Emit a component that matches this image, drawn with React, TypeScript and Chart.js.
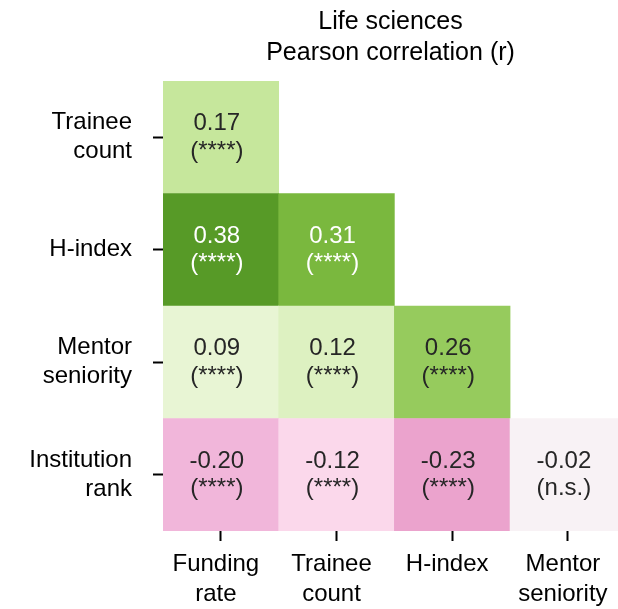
import React, { useEffect, useRef } from "react";
import { Chart, registerables } from "chart.js";

Chart.register(...registerables);

// ---- data ----
const rowLabels: (string | string[])[] = [["Trainee", "count"], "H-index", ["Mentor", "seniority"], ["Institution", "rank"]];
const colLabels: (string | string[])[] = [["Funding", "rate"], ["Trainee", "count"], "H-index", ["Mentor", "seniority"]];

// lower triangle, one array per row (columns from left)
const rTraineeCount = [0.17];
const rHIndex = [0.38, 0.31];
const rMentorSeniority = [0.09, 0.12, 0.26];
const rInstitutionRank = [-0.2, -0.12, -0.23, -0.02];

const sigTraineeCount = ["****"];
const sigHIndex = ["****", "****"];
const sigMentorSeniority = ["****", "****", "****"];
const sigInstitutionRank = ["****", "****", "****", "n.s."];

const rRows = [rTraineeCount, rHIndex, rMentorSeniority, rInstitutionRank];
const sigRows = [sigTraineeCount, sigHIndex, sigMentorSeniority, sigInstitutionRank];

const titleLines = ["Life sciences", "Pearson correlation (r)"];

// ---- colour map (PiYG, vmin -0.5, vmax 0.5) ----
const PIYG = ["#8e0152", "#c51b7d", "#de77ae", "#f1b6da", "#fde0ef", "#f7f7f7", "#e6f5d0", "#b8e186", "#7fbc41", "#4d9221", "#276419"];
const VMIN = -0.5;
const VMAX = 0.5;

function hexToRgb(h: string): number[] {
  return [parseInt(h.slice(1, 3), 16), parseInt(h.slice(3, 5), 16), parseInt(h.slice(5, 7), 16)];
}
function cmapRgb(v: number): number[] {
  let t = (v - VMIN) / (VMAX - VMIN);
  t = Math.max(0, Math.min(1, t));
  const pos = t * (PIYG.length - 1);
  const i = Math.min(Math.floor(pos), PIYG.length - 2);
  const f = pos - i;
  const a = hexToRgb(PIYG[i]);
  const b = hexToRgb(PIYG[i + 1]);
  return a.map((c, k) => Math.round(c + (b[k] - c) * f));
}
function cmap(v: number): string {
  const [r, g, b] = cmapRgb(v);
  return `rgb(${r},${g},${b})`;
}
function textColor(v: number): string {
  const lin = cmapRgb(v).map((c) => {
    const s = c / 255;
    return s <= 0.03928 ? s / 12.92 : Math.pow((s + 0.055) / 1.055, 2.4);
  });
  const L = 0.2126 * lin[0] + 0.7152 * lin[1] + 0.0722 * lin[2];
  return L > 0.408 ? "#262626" : "#ffffff";
}

type Cell = { col: number; row: number; r: number; sig: string };
const cells: Cell[] = [];
rRows.forEach((vals, row) => {
  vals.forEach((r, col) => cells.push({ col, row, r, sig: sigRows[row][col] }));
});

const FONT_FAMILY = '"Liberation Sans", Arial, Helvetica, sans-serif';

const annotPlugin = {
  id: "annot",
  afterDatasetsDraw(chart: any) {
    const ctx = chart.ctx;
    const meta = chart.getDatasetMeta(0);
    meta.data.forEach((el: any, i: number) => {
      const c = cells[i];
      const { x, y, base } = el.getProps(["x", "y", "base"], true);
      const cy = (y + base) / 2;
      ctx.save();
      ctx.font = `24px ${FONT_FAMILY}`;
      ctx.fillStyle = textColor(c.r);
      ctx.textAlign = "center";
      ctx.textBaseline = "middle";
      ctx.fillText(c.r.toFixed(2), x - 4, cy - 13.75);
      ctx.fillText(`(${c.sig})`, x - 4, cy + 13.75);
      ctx.restore();
    });
  },
};

export default function App() {
  const ref = useRef<HTMLCanvasElement | null>(null);
  useEffect(() => {
    if (!ref.current) return;
    const chart = new Chart(ref.current, {
      type: "bar",
      data: {
        datasets: [
          {
            data: cells.map((c) => ({ x: c.col, y: [c.row - 0.5, c.row + 0.5] })) as any,
            backgroundColor: cells.map((c) => cmap(c.r)),
            borderWidth: 0,
            barPercentage: 1,
            categoryPercentage: 1,
          },
        ],
      },
      options: {
        responsive: false,
        animation: false,
        devicePixelRatio: 1,
        layout: { padding: { left: 0, right: 0, top: 0, bottom: 0 } },
        plugins: {
          legend: { display: false },
          tooltip: { enabled: false },
          title: {
            display: true,
            fullSize: false,
            text: titleLines,
            color: "#000",
            font: { family: FONT_FAMILY, size: 25, weight: "normal", lineHeight: 1.24 },
            padding: { top: 7, bottom: 12 },
          },
        },
        scales: {
          x: {
            type: "linear",
            position: "bottom",
            min: -0.5,
            max: 3.433,
            bounds: "data",
            offset: false,
            grid: {
              offset: false,
              drawOnChartArea: false,
              drawTicks: true,
              tickLength: 10,
              tickWidth: 2,
              tickColor: "#000",
            },
            border: { display: false },
            afterBuildTicks: (s: any) => {
              s.ticks = colLabels.map((_, i) => ({ value: i }));
            },
            afterFit: (s: any) => {
              s.height = 78;
              s.paddingLeft = 0;
              s.paddingRight = 0;
            },
            ticks: {
              autoSkip: false,
              maxRotation: 0,
              minRotation: 0,
              padding: 8,
              labelOffset: -5,
              color: "#000",
              font: { family: FONT_FAMILY, size: 24, lineHeight: 1.25 },
              callback: (_v: any, i: number) => colLabels[i],
            },
          },
          y: {
            type: "linear",
            position: "left",
            min: -0.5,
            max: 3.5,
            reverse: true,
            bounds: "data",
            grid: {
              drawOnChartArea: false,
              drawTicks: true,
              tickLength: 10,
              tickWidth: 2,
              tickColor: "#000",
            },
            border: { display: false },
            afterBuildTicks: (s: any) => {
              s.ticks = rowLabels.map((_, i) => ({ value: i }));
            },
            afterFit: (s: any) => {
              s.width = 163;
              s.paddingTop = 0;
              s.paddingBottom = 0;
            },
            ticks: {
              autoSkip: false,
              padding: 21,
              color: "#000",
              font: { family: FONT_FAMILY, size: 24, lineHeight: 1.2 },
              callback: (_v: any, i: number) => rowLabels[i],
            },
          },
        },
      } as any,
      plugins: [annotPlugin],
    });
    return () => chart.destroy();
  }, []);
  return (
    <div style={{ position: "fixed", left: 0, top: 0, width: 618, height: 609, background: "#fff" }}>
      <canvas ref={ref} width={618} height={609} style={{ display: "block" }} />
    </div>
  );
}
